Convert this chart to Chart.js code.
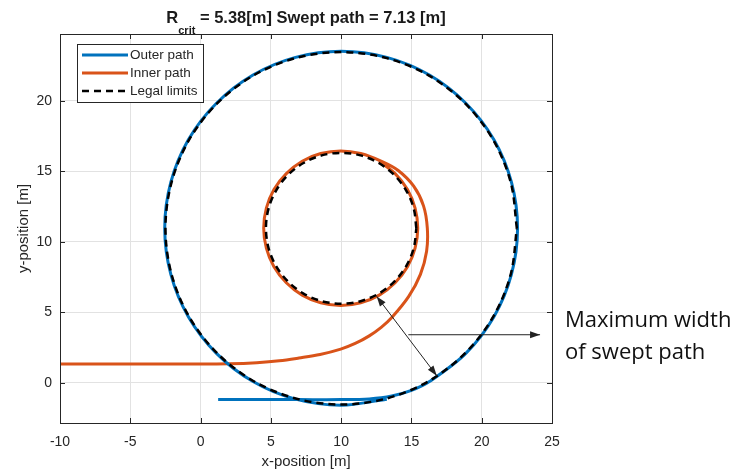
<!DOCTYPE html>
<html>
<head>
<meta charset="utf-8">
<script src="https://cdn.jsdelivr.net/npm/chart.js@4.4.0/dist/chart.umd.min.js"></script>
<style>
  body { margin: 0; background: #fff; }
  #wrap { position: relative; width: 749px; height: 475px; }
  #plotTitle { position: absolute; left: 60px; width: 492px; top: 9px; text-align: center;
    font: bold 16.5px "Liberation Sans", Arial, sans-serif; line-height: 16px; color: #1a1a1a; white-space: nowrap; }
  #plotTitle sub { font-size: 11px; vertical-align: -11px; line-height: 0; }
  #note { position: absolute; left: 565px; top: 302px; font: 22px "Open Sans", sans-serif;
    line-height: 32px; color: #111; white-space: nowrap; }
</style>
</head>
<body>
<div id="wrap">
  <canvas id="chart" width="749" height="475"></canvas>
  <div id="plotTitle">R<sub>crit</sub> = 5.38[m] Swept path = 7.13 [m]</div>
  <div id="note">Maximum width<br>of swept path</div>
</div>
<script>
// axis ranges and ticks
const xMin = -10, xMax = 25;
const yMin = -2.86, yMax = 24.73;
const xTickValues = [-10, -5, 0, 5, 10, 15, 20, 25];
const yTickValues = [0, 5, 10, 15, 20];

// outer path (blue) - straight approach then one full loop
const outerPathX = [1.25, 4, 7, 10, 12, 13.6, 15.0, 16.28, 18.87, 20.87, 22.12, 22.55, 22.12, 20.87, 18.87, 16.28, 13.25, 10, 6.75, 3.73, 1.13, -0.87, -2.12, -2.55, -2.12, -0.87, 1.13, 3.73, 6.75, 10, 13.25];
const outerPathY = [-1.2, -1.2, -1.2, -1.2, -1.15, -0.95, -0.55, 0.08, 2.08, 4.68, 7.70, 10.95, 14.20, 17.23, 19.82, 21.82, 23.07, 23.5, 23.07, 21.82, 19.82, 17.23, 14.20, 10.95, 7.70, 4.68, 2.08, 0.08, -1.17, -1.6, -1.17];

// inner path (orange) - straight approach, spiral in, then one full loop
const innerPathX = [-10, 0, 2, 4, 5.6, 7, 8.5, 9.97, 11.0, 12.0, 12.85, 13.62, 14.81, 15.64, 16.08, 16.13, 15.86, 15.15, 14.06, 12.92, 11.39, 9.97, 8.55, 7.23, 6.10, 5.22, 4.68, 4.49, 4.68, 5.22, 6.10, 7.23, 8.55, 9.97, 11.39, 12.71, 13.84, 14.72, 15.26, 15.45, 15.26, 14.72, 13.84, 12.71];
const innerPathY = [1.32, 1.32, 1.34, 1.42, 1.55, 1.75, 2.0, 2.38, 2.78, 3.32, 3.92, 4.64, 6.12, 7.68, 9.32, 10.96, 12.54, 13.95, 15.05, 15.68, 16.25, 16.44, 16.25, 15.71, 14.83, 13.70, 12.38, 10.96, 9.54, 8.22, 7.09, 6.21, 5.67, 5.48, 5.67, 6.21, 7.09, 8.22, 9.54, 10.96, 12.38, 13.70, 14.83, 15.71];

// legal limits: outer circle and inner circle
const legalOuterX = [22.5, 22.07, 20.83, 18.84, 16.25, 13.24, 10, 6.76, 3.75, 1.16, -0.83, -2.07, -2.5, -2.07, -0.83, 1.16, 3.75, 6.76, 10, 13.24, 16.25, 18.84, 20.83, 22.07, 22.5];
const legalOuterY = [10.95, 14.19, 17.2, 19.79, 21.78, 23.02, 23.45, 23.02, 21.78, 19.79, 17.2, 14.19, 10.95, 7.71, 4.7, 2.11, 0.12, -1.12, -1.55, -1.12, 0.12, 2.11, 4.7, 7.71, 10.95];
const legalInnerX = [15.35, 15.17, 14.63, 13.78, 12.68, 11.38, 10, 8.62, 7.32, 6.22, 5.37, 4.83, 4.65, 4.83, 5.37, 6.22, 7.32, 8.62, 10, 11.38, 12.68, 13.78, 14.63, 15.17, 15.35];
const legalInnerY = [10.95, 12.33, 13.63, 14.73, 15.58, 16.12, 16.3, 16.12, 15.58, 14.73, 13.63, 12.33, 10.95, 9.57, 8.27, 7.17, 6.32, 5.78, 5.6, 5.78, 6.32, 7.17, 8.27, 9.57, 10.95];

// annotation arrows (data coordinates)
const widthArrowX = [12.53, 16.8], widthArrowY = [6.12, 0.5];
const pointerArrowX = [14.78, 24.15], pointerArrowY = [3.4, 3.4];

const fontFamily = '"Liberation Sans", Arial, sans-serif';
const axisColor = '#262626';

function toPoints(xs, ys) {
    return xs.map((x, i) => ({ x: x, y: ys[i] }));
}

function drawArrowHead(ctx, fromX, fromY, toX, toY) {
    const ang = Math.atan2(toY - fromY, toX - fromX);
    const len = 10, half = 3.5;
    ctx.beginPath();
    ctx.moveTo(toX, toY);
    ctx.lineTo(toX - len * Math.cos(ang) + half * Math.sin(ang), toY - len * Math.sin(ang) - half * Math.cos(ang));
    ctx.lineTo(toX - len * Math.cos(ang) - half * Math.sin(ang), toY - len * Math.sin(ang) + half * Math.cos(ang));
    ctx.closePath();
    ctx.fill();
}

const framePlugin = {
    id: 'frame',
    afterDatasetsDraw(chart) {
        const { ctx, scales: { x, y } } = chart;
        ctx.save();
        ctx.strokeStyle = '#222';
        ctx.fillStyle = '#222';
        ctx.lineWidth = 1;
        // double arrow across the swept width
        const ax1 = x.getPixelForValue(widthArrowX[0]), ay1 = y.getPixelForValue(widthArrowY[0]);
        const ax2 = x.getPixelForValue(widthArrowX[1]), ay2 = y.getPixelForValue(widthArrowY[1]);
        ctx.beginPath(); ctx.moveTo(ax1, ay1); ctx.lineTo(ax2, ay2); ctx.stroke();
        drawArrowHead(ctx, ax1, ay1, ax2, ay2);
        drawArrowHead(ctx, ax2, ay2, ax1, ay1);
        // pointer to the note
        const bx1 = x.getPixelForValue(pointerArrowX[0]), by1 = y.getPixelForValue(pointerArrowY[0]);
        const bx2 = x.getPixelForValue(pointerArrowX[1]), by2 = y.getPixelForValue(pointerArrowY[1]);
        ctx.beginPath(); ctx.moveTo(bx1, by1); ctx.lineTo(bx2, by2); ctx.stroke();
        drawArrowHead(ctx, bx1, by1, bx2, by2);
        ctx.restore();
    },
    afterDraw(chart) {
        const { ctx, chartArea: a, scales: { x, y } } = chart;
        ctx.save();
        ctx.strokeStyle = axisColor;
        ctx.lineWidth = 1;
        // inward tick marks on all four sides
        ctx.beginPath();
        x.ticks.forEach(t => {
            const px = Math.round(x.getPixelForValue(t.value)) + 0.5;
            ctx.moveTo(px, a.bottom); ctx.lineTo(px, a.bottom - 5);
            ctx.moveTo(px, a.top); ctx.lineTo(px, a.top + 5);
        });
        y.ticks.forEach(t => {
            const py = Math.round(y.getPixelForValue(t.value)) + 0.5;
            ctx.moveTo(a.left, py); ctx.lineTo(a.left + 5, py);
            ctx.moveTo(a.right, py); ctx.lineTo(a.right - 5, py);
        });
        ctx.stroke();
        ctx.strokeRect(Math.round(a.left) + 0.5, Math.round(a.top) + 0.5, Math.round(a.right - a.left), Math.round(a.bottom - a.top));

        // legend box
        const lx = a.left + 17, ly = a.top + 10, lw = 126, lh = 58;
        ctx.fillStyle = '#fff';
        ctx.fillRect(lx, ly, lw, lh);
        ctx.strokeRect(Math.round(lx) + 0.5, Math.round(ly) + 0.5, lw, lh);
        const seen = [];
        let row = 0;
        chart.data.datasets.forEach(ds => {
            if (seen.includes(ds.label)) return;
            seen.push(ds.label);
            const ry = ly + 11 + row * 18;
            ctx.save();
            ctx.strokeStyle = ds.borderColor;
            ctx.lineWidth = ds.borderWidth;
            ctx.setLineDash(ds.borderDash || []);
            ctx.beginPath(); ctx.moveTo(lx + 5, ry); ctx.lineTo(lx + 51, ry); ctx.stroke();
            ctx.restore();
            ctx.fillStyle = axisColor;
            ctx.font = '13.5px ' + fontFamily;
            ctx.textBaseline = 'middle';
            ctx.textAlign = 'left';
            ctx.fillText(ds.label, lx + 53, ry + 0.5);
            row++;
        });
        ctx.restore();
    }
};

Chart.defaults.font.family = fontFamily;
Chart.defaults.color = axisColor;

new Chart(document.getElementById('chart'), {
    type: 'scatter',
    data: {
        datasets: [
            { label: 'Outer path', data: toPoints(outerPathX, outerPathY), borderColor: '#0072BD', borderWidth: 3, order: 2 },
            { label: 'Inner path', data: toPoints(innerPathX, innerPathY), borderColor: '#D95319', borderWidth: 3, order: 2 },
            { label: 'Legal limits', data: toPoints(legalOuterX, legalOuterY), borderColor: '#000000', borderWidth: 2.5, borderDash: [7, 5], order: 0 },
            { label: 'Legal limits', data: toPoints(legalInnerX, legalInnerY), borderColor: '#000000', borderWidth: 2.5, borderDash: [7, 5], order: 0 }
        ]
    },
    options: {
        responsive: false,
        animation: false,
        showLine: true,
        elements: {
            point: { radius: 0, hoverRadius: 0 },
            line: { tension: 0.33, fill: false }
        },
        layout: { padding: { top: 34, right: 197, bottom: 0, left: 0 } },
        plugins: { legend: { display: false }, tooltip: { enabled: false }, title: { display: false } },
        scales: {
            x: {
                type: 'linear', min: xMin, max: xMax,
                afterBuildTicks: s => { s.ticks = xTickValues.map(v => ({ value: v })); },
                afterFit: s => { s.height = 52; },
                grid: { color: '#e2e2e2', drawTicks: false },
                border: { display: false },
                ticks: { padding: 11, autoSkip: false, maxRotation: 0, font: { size: 14 }, color: axisColor },
                title: { display: true, text: 'x-position [m]', font: { size: 15 }, color: axisColor, padding: { top: 0, bottom: 4 } }
            },
            y: {
                type: 'linear', min: yMin, max: yMax,
                afterBuildTicks: s => { s.ticks = yTickValues.map(v => ({ value: v })); },
                afterFit: s => { s.width = 60; },
                grid: { color: '#e2e2e2', drawTicks: false },
                border: { display: false },
                ticks: { padding: 8, autoSkip: false, font: { size: 14 }, color: axisColor },
                title: { display: true, text: 'y-position [m]', font: { size: 15 }, color: axisColor, padding: { top: 15, bottom: 0 } }
            }
        }
    },
    plugins: [framePlugin]
});
</script>
</body>
</html>
